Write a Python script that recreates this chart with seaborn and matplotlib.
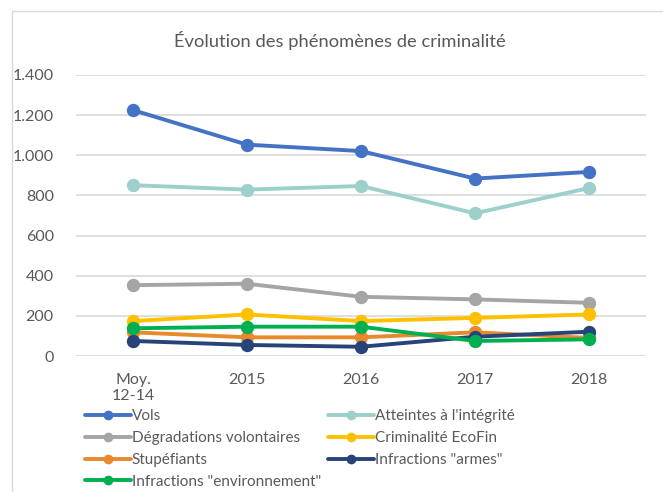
import pandas as pd
import matplotlib.pyplot as plt
import matplotlib.ticker as mticker
from matplotlib.lines import Line2D
import seaborn as sns

# données
periodes = ["Moy.\n12-14", "2015", "2016", "2017", "2018"]
vols = [1225, 1053, 1021, 884, 917]
atteintes = [851, 829, 847, 711, 837]
degradations = [353, 360, 295, 282, 265]
ecofin = [174, 207, 174, 190, 207]
stupefiants = [118, 93, 93, 118, 90]
armes = [75, 55, 46, 96, 121]
environnement = [138, 146, 146, 75, 83]

series = {
    "Vols": vols,
    "Atteintes à l'intégrité": atteintes,
    "Dégradations volontaires": degradations,
    "Criminalité EcoFin": ecofin,
    "Stupéfiants": stupefiants,
    "Infractions \"armes\"": armes,
    "Infractions \"environnement\"": environnement,
}
couleurs = {
    "Vols": "#4472C4",
    "Atteintes à l'intégrité": "#9DCFCB",
    "Dégradations volontaires": "#A5A5A5",
    "Criminalité EcoFin": "#FFC000",
    "Stupéfiants": "#E8892B",
    "Infractions \"armes\"": "#264478",
    "Infractions \"environnement\"": "#00B050",
}

rows = []
for nom, vals in series.items():
    for p, v in zip(periodes, vals):
        rows.append({"periode": p, "valeur": v, "serie": nom})
df = pd.DataFrame(rows)

sns.set_theme(style="white")
plt.rcParams["font.family"] = ["Lato", "DejaVu Sans"]
gris = "#595959"

fig = plt.figure(figsize=(6.63, 4.92), dpi=100)
ax = fig.add_axes([76 / 663, 1 - 356 / 492, 570 / 663, 281 / 492])

sns.pointplot(data=df, x="periode", y="valeur", hue="serie", order=periodes,
              hue_order=list(series.keys()), palette=couleurs, dodge=False,
              markers="o", markersize=7.5, linewidth=2.8, errorbar=None, ax=ax)

ax.set_ylim(0, 1400)
ax.set_xlim(-0.5, 4.5)
ax.yaxis.set_major_locator(mticker.MultipleLocator(200))
ax.yaxis.set_major_formatter(mticker.FuncFormatter(lambda v, p: f"{v:,.0f}".replace(",", ".")))
ax.grid(axis="y", color="#D9D9D9", linewidth=1.2)
ax.set_axisbelow(True)
for s in ax.spines.values():
    s.set_visible(False)
ax.set_xlabel("")
ax.set_ylabel("")
ax.tick_params(axis="both", length=0, labelsize=11.5, colors=gris)
ax.tick_params(axis="x", pad=12)
ax.tick_params(axis="y", pad=16)
ax.legend_.remove()

fig.text(340 / 663, 1 - 40 / 492, "Évolution des phénomènes de criminalité",
         ha="center", va="center", fontsize=13.2, color=gris)

# légende en lignes (ordre ligne par ligne)
noms = list(series.keys())
ordre = noms[0::2] + noms[1::2]
handles = [Line2D([], [], color=couleurs[n], marker="o", markersize=6, linewidth=2.8) for n in ordre]
fig.legend(handles, ordre, ncol=2, loc="upper left", bbox_to_anchor=(85 / 663, 1 - 409 / 492),
           frameon=False, fontsize=11, labelcolor=gris, handlelength=3.0, handletextpad=0.05,
           labelspacing=0.52, columnspacing=0.5, borderaxespad=0, borderpad=0)

# cadre du graphique
fig.add_artist(Line2D([12 / 663, 12 / 663], [0, 1 - 11 / 492], color="#D9D9D9", linewidth=1))
fig.add_artist(Line2D([12 / 663, 1], [1 - 11 / 492, 1 - 11 / 492], color="#D9D9D9", linewidth=1))

fig.savefig("out.png", dpi=100)
